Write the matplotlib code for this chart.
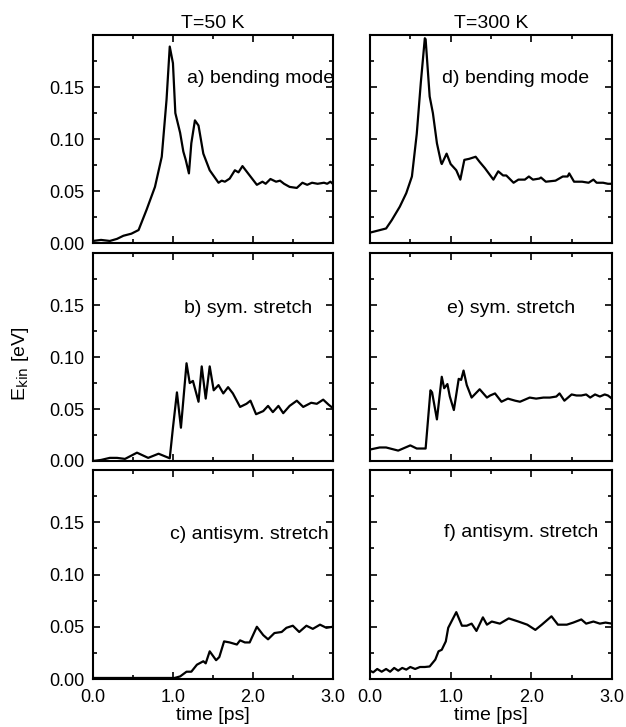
import numpy as np
import matplotlib
matplotlib.use("Agg")
import matplotlib.pyplot as plt
from matplotlib.ticker import MultipleLocator

plt.rcParams['font.family'] = ['Liberation Sans', 'DejaVu Sans']

# a) bending mode, T=50 K
t_a = [0.00, 0.10, 0.21, 0.30, 0.38, 0.48, 0.57, 0.67, 0.775, 0.86, 0.92, 0.96, 1.00, 1.03, 1.09, 1.13,
       1.16, 1.20, 1.23, 1.275, 1.32, 1.38, 1.46, 1.57, 1.61, 1.65, 1.71, 1.775, 1.82, 1.87, 1.92, 1.99,
       2.05, 2.12, 2.16, 2.22, 2.29, 2.34, 2.39, 2.46, 2.55, 2.62, 2.68, 2.74, 2.81, 2.89, 2.93, 2.97, 3.00]
e_a = [0.002, 0.003, 0.002, 0.004, 0.007, 0.009, 0.0125, 0.032, 0.054, 0.083, 0.138, 0.189, 0.173, 0.125, 0.106, 0.088,
       0.080, 0.067, 0.096, 0.118, 0.113, 0.086, 0.070, 0.058, 0.060, 0.059, 0.062, 0.070, 0.068, 0.074, 0.069, 0.062,
       0.056, 0.059, 0.057, 0.0616, 0.059, 0.060, 0.057, 0.054, 0.053, 0.058, 0.056, 0.058, 0.057, 0.058, 0.057, 0.059, 0.057]

# d) bending mode, T=300 K
t_d = [0.00, 0.10, 0.20, 0.27, 0.37, 0.45, 0.52, 0.58, 0.63, 0.68, 0.69, 0.74, 0.78, 0.83, 0.88, 0.89,
       0.95, 1.00, 1.07, 1.12, 1.17, 1.23, 1.31, 1.36, 1.425, 1.53, 1.59, 1.65, 1.69, 1.78, 1.84, 1.92,
       1.97, 2.02, 2.10, 2.12, 2.18, 2.30, 2.39, 2.45, 2.47, 2.53, 2.63, 2.71, 2.77, 2.81, 2.89, 2.95, 3.00]
e_d = [0.010, 0.012, 0.014, 0.022, 0.035, 0.048, 0.064, 0.105, 0.154, 0.197, 0.196, 0.141, 0.125, 0.096, 0.078, 0.076,
       0.086, 0.076, 0.070, 0.061, 0.080, 0.081, 0.083, 0.078, 0.072, 0.061, 0.069, 0.065, 0.065, 0.058, 0.061, 0.061,
       0.064, 0.061, 0.062, 0.063, 0.059, 0.060, 0.064, 0.064, 0.067, 0.059, 0.059, 0.058, 0.061, 0.058, 0.058, 0.057, 0.057]

# b) sym. stretch, T=50 K
t_b = [0.00, 0.10, 0.21, 0.30, 0.40, 0.55, 0.69, 0.82, 0.96, 1.00, 1.05, 1.10, 1.17, 1.21, 1.25, 1.32,
       1.36, 1.41, 1.46, 1.51, 1.57, 1.63, 1.69, 1.75, 1.84, 1.92, 1.97, 2.04, 2.13, 2.19, 2.25, 2.32,
       2.38, 2.46, 2.55, 2.63, 2.73, 2.80, 2.88, 2.95, 3.00]
e_b = [0.000, 0.001, 0.003, 0.003, 0.002, 0.008, 0.003, 0.007, 0.0026, 0.032, 0.066, 0.032, 0.094, 0.075, 0.077, 0.057,
       0.091, 0.060, 0.091, 0.068, 0.073, 0.065, 0.071, 0.065, 0.052, 0.055, 0.058, 0.045, 0.048, 0.053, 0.047, 0.053,
       0.046, 0.053, 0.058, 0.052, 0.056, 0.055, 0.059, 0.054, 0.051]

# e) sym. stretch, T=300 K
t_e = [0.00, 0.12, 0.20, 0.35, 0.50, 0.58, 0.69, 0.75, 0.77, 0.83, 0.89, 0.92, 0.96, 0.99, 1.04, 1.10,
       1.13, 1.16, 1.20, 1.26, 1.36, 1.45, 1.49, 1.55, 1.63, 1.71, 1.80, 1.86, 1.92, 1.98, 2.06, 2.15,
       2.23, 2.31, 2.35, 2.41, 2.50, 2.56, 2.62, 2.68, 2.73, 2.79, 2.85, 2.91, 2.95, 3.00]
e_e = [0.011, 0.013, 0.013, 0.010, 0.015, 0.012, 0.012, 0.068, 0.066, 0.040, 0.081, 0.070, 0.074, 0.062, 0.049, 0.079,
       0.078, 0.087, 0.073, 0.061, 0.069, 0.061, 0.063, 0.065, 0.057, 0.060, 0.058, 0.057, 0.059, 0.061, 0.060, 0.061,
       0.061, 0.062, 0.065, 0.058, 0.064, 0.063, 0.063, 0.064, 0.061, 0.064, 0.062, 0.064, 0.063, 0.060]

# c) antisym. stretch, T=50 K
t_c = [0.00, 0.30, 0.60, 0.90, 1.02, 1.09, 1.17, 1.23, 1.30, 1.38, 1.41, 1.46, 1.54, 1.58, 1.64, 1.71,
       1.80, 1.84, 1.90, 1.96, 2.05, 2.13, 2.19, 2.27, 2.36, 2.42, 2.50, 2.58, 2.67, 2.75, 2.84, 2.92, 3.00]
e_c = [0.001, 0.001, 0.001, 0.001, 0.001, 0.0025, 0.007, 0.007, 0.0137, 0.017, 0.015, 0.0265, 0.018, 0.021, 0.036, 0.035,
       0.033, 0.037, 0.035, 0.035, 0.050, 0.042, 0.038, 0.044, 0.045, 0.049, 0.051, 0.045, 0.051, 0.048, 0.052, 0.049, 0.050]

# f) antisym. stretch, T=300 K
t_f = [0.00, 0.04, 0.09, 0.145, 0.20, 0.25, 0.30, 0.35, 0.40, 0.45, 0.50, 0.56, 0.62, 0.68, 0.74, 0.81,
       0.85, 0.89, 0.94, 0.97, 1.07, 1.14, 1.20, 1.26, 1.32, 1.40, 1.45, 1.51, 1.61, 1.72, 1.84, 1.95,
       2.05, 2.13, 2.25, 2.33, 2.44, 2.52, 2.62, 2.68, 2.77, 2.85, 2.92, 3.00]
e_f = [0.008, 0.0064, 0.0096, 0.007, 0.0096, 0.007, 0.0106, 0.008, 0.0106, 0.009, 0.0115, 0.0096, 0.0115, 0.0115, 0.012, 0.0186,
       0.0265, 0.028, 0.036, 0.049, 0.064, 0.051, 0.051, 0.053, 0.046, 0.059, 0.052, 0.055, 0.053, 0.058, 0.055, 0.052,
       0.047, 0.052, 0.060, 0.052, 0.052, 0.054, 0.057, 0.053, 0.055, 0.053, 0.054, 0.053]

panels = [
    (t_a, e_a, "a) bending mode", 0.39, 0.79),
    (t_d, e_d, "d) bending mode", 0.296, 0.79),
    (t_b, e_b, "b) sym. stretch", 0.38, 0.735),
    (t_e, e_e, "e) sym. stretch", 0.317, 0.735),
    (t_c, e_c, "c) antisym. stretch", 0.32, 0.69),
    (t_f, e_f, "f) antisym. stretch", 0.306, 0.70),
]

fig = plt.figure(figsize=(6.26, 7.27), dpi=100)
lefts = [0.1486, 0.591]
widths = [0.383, 0.3866]
bottoms = [0.6657, 0.3659, 0.066]
heights = [0.286, 0.286, 0.2875]

for k, (t, e, lab, tx, ty) in enumerate(panels):
    row, col = k // 2, k % 2
    ax = fig.add_axes([lefts[col], bottoms[row], widths[col], heights[row]])
    ax.plot(t, e, 'k-', lw=1.6)
    ax.set_xlim(0, 3)
    ax.set_ylim(0, 0.2)
    ax.xaxis.set_major_locator(MultipleLocator(1.0))
    ax.xaxis.set_minor_locator(MultipleLocator(0.5))
    ax.yaxis.set_major_locator(MultipleLocator(0.05))
    ax.yaxis.set_minor_locator(MultipleLocator(0.025))
    ax.tick_params(which='both', direction='in', top=True, right=True, labelsize=13, width=1.2)
    ax.tick_params(which='major', length=5)
    ax.tick_params(which='minor', length=3)
    ax.tick_params(axis='x', which='major', pad=7)
    ax.tick_params(axis='y', which='major', pad=6)
    for s in ax.spines.values():
        s.set_linewidth(1.5)
    ax.set_yticks([0, 0.05, 0.10, 0.15])
    ax.set_yticklabels(["0.00", "0.05", "0.10", "0.15"])
    ax.set_xticks([0, 1, 2, 3])
    if col == 1:
        ax.set_yticklabels([])
    if row < 2:
        ax.set_xticklabels([])
    else:
        ax.set_xticklabels(["0.0", "1.0", "2.0", "3.0"])
        ax.set_xlabel("time [ps]", fontsize=14, labelpad=1)
    ax.text(tx, ty, lab, transform=ax.transAxes, fontsize=14, va='center', ha='left')
    if row == 0:
        ax.set_title("T=50 K" if col == 0 else "T=300 K", fontsize=14, pad=5)

fig.text(0.032, 0.5, r"E$_{\rm kin}$ [eV]", rotation=90, fontsize=14, va='center', ha='center')

plt.savefig("out.png", dpi=100)
